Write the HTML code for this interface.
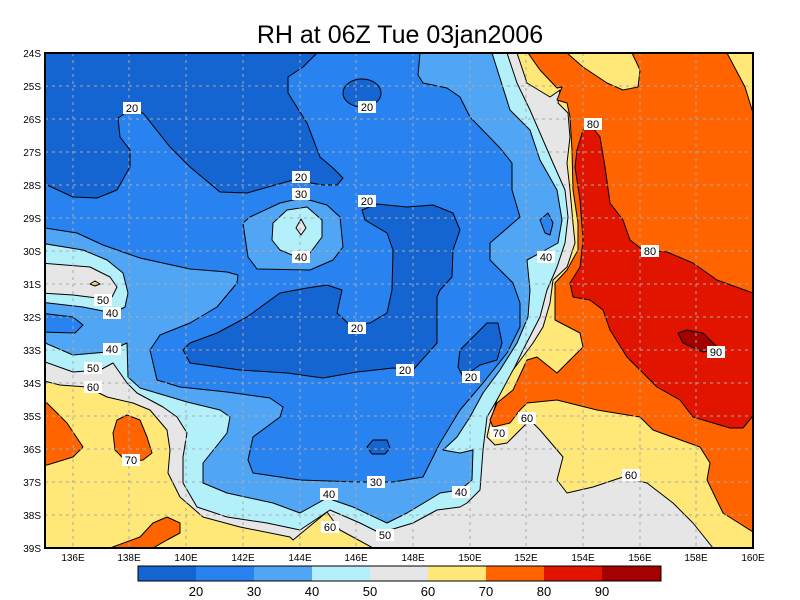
<!DOCTYPE html>
<html><head><meta charset="utf-8"><style>
body{margin:0;background:#fff}
svg{display:block}
text{font-family:"Liberation Sans",sans-serif}
</style></head><body>
<svg width="800" height="600" viewBox="0 0 800 600">
<rect width="800" height="600" fill="#fff"/>
<text x="400" y="43" font-size="25" text-anchor="middle">RH at 06Z Tue 03jan2006</text>
<defs><clipPath id="c"><rect x="45" y="53" width="708" height="495"/></clipPath></defs>
<g clip-path="url(#c)" stroke="#000" stroke-width="1" stroke-linejoin="round">
<rect x="45" y="53" width="708" height="495" fill="#50a5f5" stroke="none"/>
<!-- >=40 -->
<polygon fill="#b4f0fa" points="492,53 510,110 530,130 540,160 557,190 562,220 558,243 540,253 527,260 530,290 528,317 517,343 500,370 483,393 470,417 457,437 443,450 460,453 473,450 472,480 460,490 440,493 437,495 407,513 387,523 353,507 327,498 300,513 273,503 227,493 203,483 203,463 227,433 230,417 220,410 187,402 140,388 128,377 127,343 107,352 73,355 45,343 40,343 40,560 760,560 760,45 492,45"/>
<!-- >=50 -->
<polygon fill="#e6e6e6" points="45,362 73,372 100,370 113,363 127,383 137,393 163,407 177,417 187,433 183,457 183,483 197,507 227,517 267,523 300,530 330,510 360,523 380,533 413,523 437,510 460,507 467,503 480,490 483,450 487,417 507,383 523,350 540,317 547,290 557,267 565,243 568,217 565,190 553,163 540,133 530,110 517,83 507,53 507,45 760,45 760,560 40,560 40,362"/>
<!-- >=60 west -->
<polygon fill="#ffe878" points="40,380 60,385 87,387 107,397 133,403 150,410 167,430 170,450 168,473 180,497 203,517 240,527 290,537 293,540 327,512 340,530 373,548 373,560 40,560"/>
<!-- >=60 east -->
<polygon fill="#ffe878" points="517,45 517,53 527,83 550,97 560,90 558,103 568,113 570,137 567,163 570,190 573,223 575,243 567,267 553,280 550,303 543,327 533,343 513,370 497,400 490,423 487,437 495,445 507,443 520,430 530,420 540,430 563,457 557,480 567,493 593,487 623,477 647,483 673,503 693,523 713,548 713,560 760,560 760,45"/>
<!-- >=70 east -->
<polygon fill="#ff6400" points="528,45 528,53 540,70 557,88 562,87 557,100 567,103 570,117 572,150 573,190 578,223 578,250 567,270 555,283 555,320 580,333 583,347 573,357 557,373 537,357 527,360 513,390 497,403 490,420 493,427 510,423 520,410 527,403 557,400 597,410 640,417 653,430 700,447 710,463 707,480 723,513 753,532 760,532 760,113 753,113 745,87 727,53 727,45"/>
<polygon fill="#ffe878" points="567,53 583,67 607,83 623,90 638,87 640,70 632,53 632,45 567,45"/>
<!-- >=70 west -->
<polygon fill="#ff6400" points="40,403 47,403 67,423 83,447 73,457 47,465 40,465"/>
<polygon fill="#ff6400" points="117,420 127,415 140,420 147,437 152,453 143,460 127,462 115,450 113,433"/>
<polygon fill="#ff6400" points="110,548 140,537 153,523 167,517 180,523 180,533 167,540 153,548 153,555 110,555"/>
<!-- >=80 -->
<polygon fill="#e11400" points="577,150 583,130 593,128 600,137 605,167 610,203 623,220 630,240 643,250 667,252 693,263 717,280 753,293 760,293 760,417 752,417 743,428 730,428 693,417 680,400 657,387 640,370 627,357 610,330 603,310 590,300 573,297 570,283 580,267 583,240 580,200 575,167"/>
<polygon fill="#a50000" points="678,333 687,330 703,333 720,350 703,352 683,343"/>
<!-- <40 central -->
<polygon fill="#2882f0" points="420,45 420,53 418,75 423,83 447,88 460,97 470,117 500,148 512,163 512,190 520,217 490,243 490,260 513,283 520,303 520,327 507,353 483,383 460,410 440,443 423,477 393,482 357,482 300,480 253,473 248,460 253,437 280,417 283,407 270,398 227,392 180,387 157,380 150,350 160,335 190,323 217,307 237,283 238,275 227,272 190,269 140,258 103,245 77,233 45,228 40,228 40,45"/>
<!-- island -->
<polygon fill="#50a5f5" points="243,223 250,217 280,203 302,198 327,205 340,217 343,247 333,260 310,270 257,269 248,257 245,237"/>
<polygon fill="#b4f0fa" points="273,223 287,210 307,207 322,220 322,237 310,253 297,257 280,250 272,240"/>
<polygon fill="#e6e6e6" points="301,219 306,228 301,235 296,228"/>
<!-- west islands -->
<polygon fill="#b4f0fa" points="40,243 83,250 107,260 123,273 128,293 125,307 113,313 83,307 40,302"/>
<polygon fill="#e6e6e6" points="40,263 90,267 110,277 117,287 112,297 97,298 73,295 40,293"/>
<polygon fill="#ffe878" points="90,284 95,281 100,284 95,286"/>
<polygon fill="#2882f0" points="40,313 73,317 83,325 75,333 40,332"/>
<polygon fill="#2882f0" points="540,220 548,213 553,223 550,235 545,233"/>
<!-- 20 regions -->
<polygon fill="#1464d2" points="40,185 47,185 73,197 97,198 117,190 130,167 130,150 120,137 118,118 127,112 143,113 170,147 190,167 220,192 247,193 293,180 323,185 337,185 343,178 333,168 320,157 307,123 288,93 288,77 303,67 317,53 317,45 40,45"/>
<ellipse cx="362" cy="93" rx="19" ry="14" fill="#1464d2"/>
<polygon fill="#1464d2" points="362,210 377,204 407,207 433,205 453,213 460,230 453,250 452,277 440,290 437,297 437,343 413,370 393,368 357,372 323,378 287,373 240,370 190,363 183,350 190,343 217,333 247,317 280,293 307,288 327,285 342,290 337,313 350,325 370,323 387,313 392,290 393,250 387,233 365,220"/>
<polygon fill="#1464d2" points="460,350 487,323 498,323 502,343 497,360 480,365 463,377 458,367"/>
<polygon fill="#1464d2" points="367,447 373,440 387,440 390,448 385,454 372,454"/>
</g>
<!-- grid -->
<g stroke="#aaa" stroke-width="1" stroke-dasharray="3,4" fill="none">
<path d="M73,53V548M129,53V548M186,53V548M243,53V548M300,53V548M356,53V548M413,53V548M470,53V548M526,53V548M583,53V548M640,53V548M696,53V548"/>
<path d="M45,86H753M45,119H753M45,152H753M45,185H753M45,218H753M45,251H753M45,284H753M45,317H753M45,350H753M45,383H753M45,416H753M45,449H753M45,482H753M45,515H753"/>
</g>
<rect x="45" y="53" width="708" height="495" fill="none" stroke="#000" stroke-width="2"/>
<!-- labels -->
<g font-size="11" text-anchor="middle">
<g fill="#fff">
<rect x="123" y="102" width="18" height="12"/><rect x="358" y="101" width="18" height="12"/><rect x="292" y="171" width="18" height="12"/><rect x="292" y="188" width="18" height="12"/><rect x="292" y="251" width="18" height="12"/><rect x="358" y="195" width="18" height="12"/><rect x="348" y="322" width="18" height="12"/><rect x="396" y="364" width="18" height="12"/><rect x="462" y="371" width="18" height="12"/><rect x="367" y="476" width="18" height="12"/><rect x="320" y="488" width="18" height="12"/><rect x="452" y="486" width="18" height="12"/><rect x="376" y="529" width="18" height="12"/><rect x="321" y="521" width="18" height="12"/><rect x="94" y="294" width="18" height="12"/><rect x="103" y="307" width="18" height="12"/><rect x="103" y="343" width="18" height="12"/><rect x="84" y="362" width="18" height="12"/><rect x="84" y="381" width="18" height="12"/><rect x="122" y="454" width="18" height="12"/><rect x="584" y="118" width="18" height="12"/><rect x="537" y="251" width="18" height="12"/><rect x="641" y="245" width="18" height="12"/><rect x="707" y="346" width="18" height="12"/><rect x="490" y="427" width="18" height="12"/><rect x="518" y="412" width="18" height="12"/><rect x="622" y="469" width="18" height="12"/>
</g>
<text x="132" y="112">20</text><text x="367" y="111">20</text><text x="301" y="181">20</text><text x="301" y="198">30</text><text x="301" y="261">40</text><text x="367" y="205">20</text><text x="357" y="332">20</text><text x="405" y="374">20</text><text x="471" y="381">20</text><text x="376" y="486">30</text><text x="329" y="498">40</text><text x="461" y="496">40</text><text x="385" y="539">50</text><text x="330" y="531">60</text><text x="103" y="304">50</text><text x="112" y="317">40</text><text x="112" y="353">40</text><text x="93" y="372">50</text><text x="93" y="391">60</text><text x="131" y="464">70</text><text x="593" y="128">80</text><text x="546" y="261">40</text><text x="650" y="255">80</text><text x="716" y="356">90</text><text x="499" y="437">70</text><text x="527" y="422">60</text><text x="631" y="479">60</text>
</g>
<!-- axis labels -->
<g font-size="10" text-anchor="end">
<text x="41" y="57">24S</text><text x="41" y="90">25S</text><text x="41" y="123">26S</text><text x="41" y="156">27S</text><text x="41" y="189">28S</text><text x="41" y="222">29S</text><text x="41" y="255">30S</text><text x="41" y="288">31S</text><text x="41" y="321">32S</text><text x="41" y="354">33S</text><text x="41" y="387">34S</text><text x="41" y="420">35S</text><text x="41" y="453">36S</text><text x="41" y="486">37S</text><text x="41" y="519">38S</text><text x="41" y="552">39S</text>
</g>
<g font-size="10" text-anchor="middle">
<text x="73" y="561">136E</text><text x="129" y="561">138E</text><text x="186" y="561">140E</text><text x="243" y="561">142E</text><text x="300" y="561">144E</text><text x="356" y="561">146E</text><text x="413" y="561">148E</text><text x="470" y="561">150E</text><text x="526" y="561">152E</text><text x="583" y="561">154E</text><text x="640" y="561">156E</text><text x="696" y="561">158E</text><text x="753" y="561">160E</text>
</g>
<!-- colorbar -->
<g>
<rect x="138" y="566" width="58" height="15" fill="#1464d2"/>
<rect x="196" y="566" width="58" height="15" fill="#2882f0"/>
<rect x="254" y="566" width="58" height="15" fill="#50a5f5"/>
<rect x="312" y="566" width="58" height="15" fill="#b4f0fa"/>
<rect x="370" y="566" width="58" height="15" fill="#e6e6e6"/>
<rect x="428" y="566" width="58" height="15" fill="#ffe878"/>
<rect x="486" y="566" width="58" height="15" fill="#ff6400"/>
<rect x="544" y="566" width="58" height="15" fill="#e11400"/>
<rect x="602" y="566" width="59" height="15" fill="#a50000"/>
<rect x="138" y="566" width="523" height="15" fill="none" stroke="#000"/>
</g>
<g font-size="13" text-anchor="middle">
<text x="196" y="596">20</text><text x="254" y="596">30</text><text x="312" y="596">40</text><text x="370" y="596">50</text><text x="428" y="596">60</text><text x="486" y="596">70</text><text x="544" y="596">80</text><text x="602" y="596">90</text>
</g>
</svg>
</body></html>
